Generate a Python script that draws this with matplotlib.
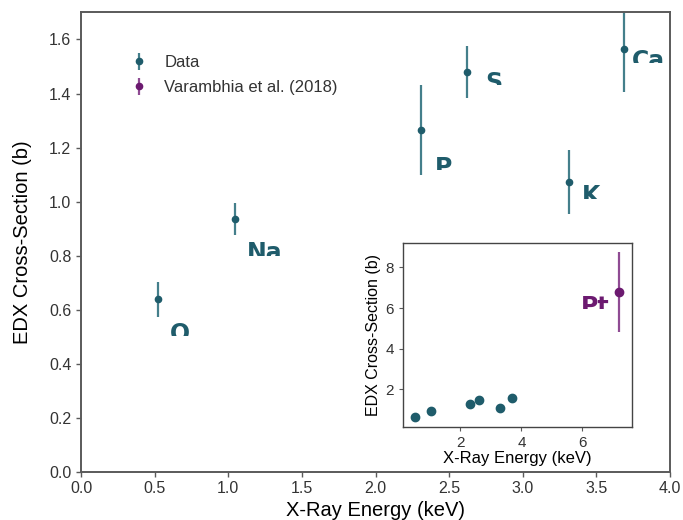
import matplotlib
matplotlib.use("Agg")
import matplotlib.pyplot as plt
from matplotlib.transforms import Bbox

# --- data ---
elements = ["O", "Na", "P", "S", "K", "Ca"]
energy = [0.525, 1.045, 2.31, 2.62, 3.315, 3.69]
xsec = [0.638, 0.935, 1.266, 1.481, 1.072, 1.566]
xsec_err = [0.064, 0.060, 0.166, 0.096, 0.119, 0.160]

ref_label = ["Pt"]
ref_energy = [7.2]
ref_xsec = [6.78]
ref_err = [1.97]

# label offsets (points) from each point
label_dx = [8.4, 8.4, 9.6, 13.5, 8.9, 5.3]
label_dy = [-16.1, -16.1, -18.7, 0.5, -1.4, -0.2]

teal = "#1f5c6b"
teal_err = "#447f8b"
purple = "#6c1a70"
purple_err = "#8f4b93"
spine_c = "#5a5a5a"

plt.rcParams["font.family"] = ["Liberation Sans", "DejaVu Sans"]

fig = plt.figure(figsize=(6.83, 5.2), dpi=100)
ax = fig.add_axes([0.1186, 0.0929, 0.8624, 0.8831])

ax.errorbar(energy, xsec, yerr=xsec_err, fmt="o", color=teal, ecolor=teal_err,
            markersize=4.5, elinewidth=1.6, capsize=0, label="Data")
# legend-only entry for the reference value
ax.errorbar([], [], yerr=[], fmt="o", color=purple, ecolor=purple_err,
            markersize=4.5, elinewidth=1.6, capsize=0, label="Varambhia et al. (2018)")

ax.set_xlim(0, 4.0)
ax.set_ylim(0, 1.7)
ax.set_xticks([0.0, 0.5, 1.0, 1.5, 2.0, 2.5, 3.0, 3.5, 4.0])
ax.set_yticks([0.0, 0.2, 0.4, 0.6, 0.8, 1.0, 1.2, 1.4, 1.6])
ax.set_xlabel("X-Ray Energy (keV)", fontsize=14.5, labelpad=3.5)
ax.set_ylabel("EDX Cross-Section (b)", fontsize=14.5, labelpad=12)
ax.tick_params(labelsize=11.5, colors=spine_c, labelcolor="#333333", length=3.5, width=1.0)
for s in ax.spines.values():
    s.set_color(spine_c)
    s.set_linewidth(1.4)

leg = ax.legend(loc="upper left", frameon=False, fontsize=12, handletextpad=0.5,
                labelspacing=0.6, bbox_to_anchor=(0.045, 0.94))
for t in leg.get_texts():
    t.set_color("#333333")

labels = []
for name, x, y, dx, dy in zip(elements, energy, xsec, label_dx, label_dy):
    t = ax.annotate(name, (x, y), xytext=(dx, dy), textcoords="offset points",
                    ha="left", va="top", fontsize=17, fontweight="bold",
                    color=teal, family="DejaVu Sans", annotation_clip=False)
    labels.append((t, ax))

# --- inset ---
axin = fig.add_axes([0.590, 0.179, 0.336, 0.353])
axin.errorbar(energy, xsec, yerr=xsec_err, fmt="o", color=teal, ecolor=teal_err,
              markersize=6, elinewidth=1.6, capsize=0)
axin.errorbar(ref_energy, ref_xsec, yerr=ref_err, fmt="o", color=purple, ecolor=purple_err,
              markersize=6, elinewidth=1.6, capsize=0)
axin.set_xlim(0.12, 7.64)
axin.set_ylim(0.14, 9.19)
axin.set_xticks([2, 4, 6])
axin.set_yticks([2, 4, 6, 8])
axin.set_xlabel("X-Ray Energy (keV)", fontsize=12, labelpad=1)
axin.set_ylabel("EDX Cross-Section (b)", fontsize=11.5, labelpad=3)
axin.tick_params(labelsize=11, colors=spine_c, labelcolor="#333333", length=3, width=0.8)
for s in axin.spines.values():
    s.set_color("#444444")
    s.set_linewidth(1.0)

for name, x, y in zip(ref_label, ref_energy, ref_xsec):
    t = axin.annotate(name, (x, y), xytext=(-7.2, -1.9), textcoords="offset points",
                      ha="right", va="top", fontsize=17, fontweight="bold",
                      color=purple, family="DejaVu Sans", annotation_clip=False)
    labels.append((t, axin))

# labels appear cut off below the top ~14 px in the reference
fig.canvas.draw()
for t, a in labels:
    ext = t.get_window_extent()
    box = Bbox([[ext.x0 - 5, ext.y1 - 14.5], [ext.x1 + 5, ext.y1 + 5]])
    box = Bbox.intersection(box, a.bbox)
    t.set_clip_on(True)
    t.set_clip_box(box)

fig.savefig("out.png", dpi=100)
